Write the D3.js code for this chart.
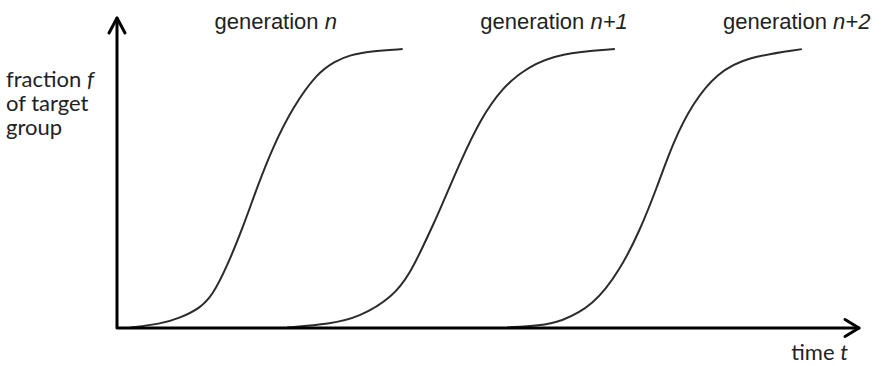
<!DOCTYPE html>
<html>
<head>
<meta charset="utf-8">
<script src="https://cdn.jsdelivr.net/npm/d3@7"></script>
<style>
  html, body { margin: 0; padding: 0; background: #fff; }
  svg { display: block; }
</style>
</head>
<body>
<div id="chart"></div>
<script>
// generations shown as S-curves (time t, fraction f)
const generations = ["n", "n+1", "n+2"];

// curve points: time in arbitrary units 0..10, fraction 0..1
const genN_t  = [0.18, 0.58, 0.85, 1.12, 1.29, 1.48, 1.70, 1.89, 2.10, 2.37, 2.70, 2.94, 3.14, 3.41, 3.85];
const genN_f  = [0.002, 0.014, 0.036, 0.071, 0.118, 0.218, 0.361, 0.504, 0.646, 0.789, 0.911, 0.953, 0.975, 0.989, 0.996];

const genN1_t = [2.29, 2.87, 3.27, 3.72, 3.95, 4.12, 4.26, 4.39, 4.62, 4.89, 5.20, 5.53, 5.97, 6.71];
const genN1_f = [0.002, 0.014, 0.039, 0.111, 0.196, 0.289, 0.368, 0.446, 0.589, 0.743, 0.861, 0.932, 0.982, 0.996];

const genN2_t = [5.26, 5.70, 5.97, 6.42, 6.78, 7.05, 7.28, 7.49, 7.76, 8.09, 8.49, 9.23];
const genN2_f = [0.002, 0.009, 0.021, 0.079, 0.207, 0.350, 0.504, 0.661, 0.804, 0.911, 0.968, 0.996];

const yLabelLines = ["fraction ", "of target", "group"];

(function () {
  const width = 883, height = 366;
  const svg = d3.select("#chart").append("svg")
    .attr("width", width)
    .attr("height", height);

  const x = d3.scaleLinear().domain([0, 10]).range([117, 859]);
  const y = d3.scaleLinear().domain([0, 1]).range([328, 48]);

  const series = [
    genN_t.map((t, i) => ({ t, f: genN_f[i] })),
    genN1_t.map((t, i) => ({ t, f: genN1_f[i] })),
    genN2_t.map((t, i) => ({ t, f: genN2_f[i] }))
  ];

  const line = d3.line()
    .x(d => x(d.t))
    .y(d => y(d.f))
    .curve(d3.curveBasis);

  svg.append("g")
    .selectAll("path")
    .data(series)
    .join("path")
    .attr("d", line)
    .attr("fill", "none")
    .attr("stroke", "#2b2b2b")
    .attr("stroke-width", 2);

  // axes: plain lines with open arrowheads
  const x0 = x.range()[0], x1 = x.range()[1];
  const y0 = y.range()[0], yTop = 18;
  const axes = svg.append("g")
    .attr("fill", "none")
    .attr("stroke", "#000")
    .attr("stroke-width", 3)
    .attr("stroke-linecap", "round")
    .attr("stroke-linejoin", "round");

  axes.append("path").attr("d", `M${x0},${yTop}V${y0}H${x1}`);
  axes.append("path").attr("d", `M${x0 - 8},${yTop + 15}L${x0},${yTop}L${x0 + 8},${yTop + 15}`);
  axes.append("path").attr("d", `M${x1 - 14},${y0 - 8.5}L${x1},${y0}L${x1 - 14},${y0 + 8.5}`);

  // generation labels, centred in time units
  const labelT = [2.14, 5.89, 9.16];
  const gl = svg.append("g")
    .attr("font-family", "'Liberation Sans', Arial, sans-serif")
    .attr("font-size", 22)
    .attr("fill", "#222")
    .attr("text-anchor", "middle");
  generations.forEach((g, i) => {
    const t = gl.append("text").attr("x", x(labelT[i])).attr("y", 29);
    t.append("tspan").text("generation ");
    t.append("tspan").attr("font-style", "italic").text(g);
  });

  // y label
  const yl = svg.append("g")
    .attr("font-family", "Lato, 'Open Sans', sans-serif")
    .attr("font-size", 22)
    .attr("fill", "#222");
  yLabelLines.forEach((s, i) => {
    const t = yl.append("text").attr("x", 6).attr("y", 87 + i * 24);
    t.append("tspan").text(s);
    if (i === 0) t.append("tspan").attr("font-style", "italic").text("f");
  });

  // x label
  const xl = yl.append("text").attr("x", 848).attr("y", 360).attr("text-anchor", "end");
  xl.append("tspan").text("time ");
  xl.append("tspan").attr("font-style", "italic").text("t");
})();
</script>
</body>
</html>
